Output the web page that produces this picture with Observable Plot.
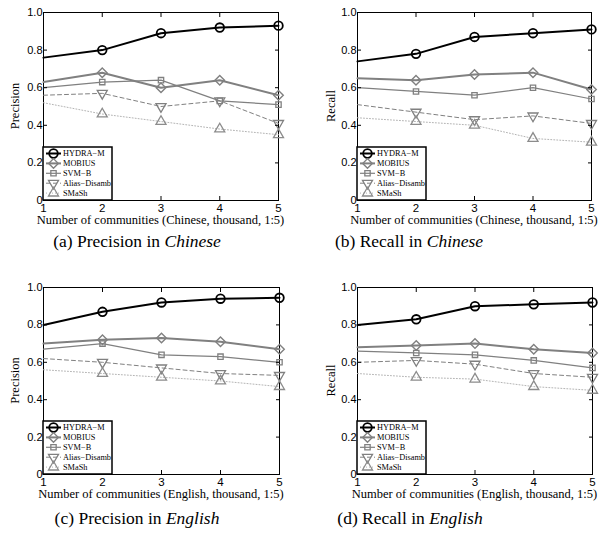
<!DOCTYPE html>
<html>
<head>
<meta charset="utf-8">
<script src="https://cdn.jsdelivr.net/npm/d3@7"></script>
<script src="https://cdn.jsdelivr.net/npm/@observablehq/plot@0.6"></script>
<style>
  html, body { margin: 0; padding: 0; background: #fff; }
  #root { position: relative; width: 603px; height: 538px; overflow: hidden; background: #fff; }
  .panel { position: absolute; }
  .panel svg { display: block; overflow: visible; }
  .cap { position: absolute; width: 300px; text-align: center; font-family: "Liberation Serif", "Times New Roman", serif; font-size: 17.5px; line-height: 20px; color: #000; }
</style>
</head>
<body>
<div id="root"></div>
<script>
// ---- data ----
const xs = [1, 2, 3, 4, 5];
const seriesNames = ["HYDRA\u2212M", "MOBIUS", "SVM\u2212B", "Alias\u2212Disamb", "SMaSh"];
const yTicks = [0, 0.2, 0.4, 0.6, 0.8, 1.0];

// rows follow seriesNames order
const precisionChinese = [
  [0.76, 0.80, 0.89, 0.92, 0.93],
  [0.63, 0.68, 0.60, 0.64, 0.56],
  [0.60, 0.63, 0.64, 0.53, 0.51],
  [0.56, 0.57, 0.50, 0.53, 0.41],
  [0.52, 0.46, 0.42, 0.38, 0.35]
];
const recallChinese = [
  [0.74, 0.78, 0.87, 0.89, 0.91],
  [0.65, 0.64, 0.67, 0.68, 0.59],
  [0.60, 0.58, 0.56, 0.60, 0.54],
  [0.51, 0.47, 0.43, 0.45, 0.41],
  [0.44, 0.42, 0.40, 0.33, 0.31]
];
const precisionEnglish = [
  [0.80, 0.87, 0.92, 0.94, 0.945],
  [0.70, 0.72, 0.73, 0.71, 0.67],
  [0.67, 0.70, 0.64, 0.63, 0.60],
  [0.62, 0.60, 0.57, 0.54, 0.53],
  [0.56, 0.54, 0.52, 0.50, 0.47]
];
const recallEnglish = [
  [0.80, 0.83, 0.90, 0.91, 0.92],
  [0.68, 0.69, 0.70, 0.67, 0.65],
  [0.66, 0.65, 0.64, 0.61, 0.57],
  [0.60, 0.61, 0.59, 0.54, 0.52],
  [0.54, 0.52, 0.51, 0.47, 0.45]
];

// ---- styles ----
const styles = [
  {stroke: "#000000", sw: 2.0, dash: null, symbol: "circle", r: 4.3, mstroke: "#000000", msw: 1.8, rotate: 0},
  {stroke: "#808080", sw: 2.0, dash: null, symbol: "diamond2", r: 4.3, mstroke: "#808080", msw: 1.4, rotate: 0},
  {stroke: "#808080", sw: 1.2, dash: null, symbol: "square2", r: 3.4, mstroke: "#808080", msw: 1.3, rotate: 0},
  {stroke: "#808080", sw: 1.0, dash: "4,3", symbol: "triangle2", r: 4.8, mstroke: "#808080", msw: 1.3, rotate: 180},
  {stroke: "#b4b4b4", sw: 1.0, dash: "1,2", symbol: "triangle2", r: 4.8, mstroke: "#8c8c8c", msw: 1.3, rotate: 0}
];
const d3Symbols = {circle: d3.symbolCircle, diamond2: d3.symbolDiamond2, square2: d3.symbolSquare2, triangle2: d3.symbolTriangle2};
const serif = "'Liberation Serif', 'Times New Roman', serif";

const root = document.getElementById("root");

function panel(values, o) {
  const marks = [Plot.frame({stroke: "#000", strokeWidth: 1})];
  seriesNames.forEach((name, i) => {
    const st = styles[i];
    const d = xs.map((x, j) => ({series: name, x, y: values[i][j]}));
    marks.push(Plot.line(d, {x: "x", y: "y", stroke: st.stroke, strokeWidth: st.sw, strokeDasharray: st.dash}));
    marks.push(Plot.dot(d.filter(p => p.x > 1), {x: "x", y: "y", symbol: st.symbol, r: st.r, fill: "none", stroke: st.mstroke, strokeWidth: st.msw, rotate: st.rotate}));
  });
  marks.push(
    Plot.axisX({ticks: xs, tickSize: -4, tickPadding: 7, tickFormat: d => String(d), label: null, fontSize: 11.5}),
    Plot.axisX({anchor: "top", ticks: xs, tickSize: -4, tickFormat: () => "", label: null}),
    Plot.axisY({ticks: yTicks, tickSize: -4, tickPadding: 5, tickFormat: d => d === 0 ? "0" : d.toFixed(1), label: null}),
    Plot.axisY({anchor: "right", ticks: yTicks, tickSize: -4, tickFormat: () => "", label: null})
  );
  const svg = Plot.plot({
    width: o.width, height: o.height,
    marginLeft: o.mL, marginRight: o.mR, marginTop: o.mT, marginBottom: o.mB,
    x: {domain: [1, 5]},
    y: {domain: [0, 1]},
    style: {fontFamily: "'Liberation Sans', Arial, sans-serif", fontSize: "11px", color: "#000", background: "transparent"},
    marks
  });

  const s = d3.select(svg);
  const plotBottom = o.height - o.mB;
  const midX = (o.mL + o.width - o.mR) / 2;
  const midY = (o.mT + plotBottom) / 2;

  // axis titles
  s.append("text").attr("x", midX).attr("y", plotBottom + 24)
    .attr("text-anchor", "middle").attr("font-family", serif).attr("font-size", 12.5).attr("fill", "#000")
    .text(o.xlabel);
  s.append("text").attr("transform", `translate(${o.yLabelX},${midY}) rotate(-90)`).attr("dy", "0.34em")
    .attr("text-anchor", "middle").attr("font-family", serif).attr("font-size", 12.5).attr("fill", "#000")
    .text(o.ylabel);

  // legend (bottom-left inside the plot area)
  const lw = 69, lh = 53, rowH = 9.9;
  const lx = o.mL, ly = plotBottom - lh;
  const g = s.append("g").attr("transform", `translate(${lx},${ly})`);
  g.append("rect").attr("x", 0).attr("y", 0).attr("width", lw).attr("height", lh)
    .attr("fill", "#fff").attr("stroke", "#000").attr("stroke-width", 1.5);
  seriesNames.forEach((name, i) => {
    const st = styles[i];
    const cy = 6.5 + i * rowH;
    g.append("line").attr("x1", 3).attr("x2", 18).attr("y1", cy).attr("y2", cy)
      .attr("stroke", st.stroke).attr("stroke-width", st.sw).attr("stroke-dasharray", st.dash);
    g.append("path").attr("d", d3.symbol(d3Symbols[st.symbol], Math.PI * st.r * st.r)())
      .attr("transform", `translate(10.5,${cy}) rotate(${st.rotate})`)
      .attr("fill", "none").attr("stroke", st.mstroke).attr("stroke-width", st.msw);
    g.append("text").attr("x", 20).attr("y", cy).attr("dy", "0.34em")
      .attr("text-anchor", "start")
      .attr("font-family", serif).attr("font-size", 8.3)
      .attr("fill", "#000").text(name);
  });

  const div = document.createElement("div");
  div.className = "panel";
  div.style.left = o.left + "px";
  div.style.top = o.top + "px";
  div.appendChild(svg);
  root.appendChild(div);
}

panel(precisionChinese, {left: 0, top: 0, width: 300, height: 230, mL: 43, mR: 22, mT: 12, mB: 30, ylabel: "Precision", xlabel: "Number of communities (Chinese, thousand, 1:5)", yLabelX: 15});
panel(recallChinese, {left: 300, top: 0, width: 303, height: 230, mL: 57, mR: 12, mT: 12, mB: 30, ylabel: "Recall", xlabel: "Number of communities (Chinese, thousand, 1:5)", yLabelX: 31});
panel(precisionEnglish, {left: 0, top: 270, width: 300, height: 230, mL: 43, mR: 21, mT: 17, mB: 26, ylabel: "Precision", xlabel: "Number of communities (English, thousand, 1:5)", yLabelX: 15});
panel(recallEnglish, {left: 300, top: 270, width: 303, height: 230, mL: 57, mR: 11, mT: 17, mB: 26, ylabel: "Recall", xlabel: "Number of communities (English, thousand, 1:5)", yLabelX: 31});

// captions
const captions = [
  {pre: "(a) Precision in ", it: "Chinese", cx: 137, cy: 241},
  {pre: "(b) Recall in ", it: "Chinese", cx: 409, cy: 241},
  {pre: "(c) Precision in ", it: "English", cx: 137, cy: 518},
  {pre: "(d) Recall in ", it: "English", cx: 410, cy: 518}
];
captions.forEach(c => {
  const el = document.createElement("div");
  el.className = "cap";
  el.style.left = (c.cx - 150) + "px";
  el.style.top = (c.cy - 10) + "px";
  el.appendChild(document.createTextNode(c.pre));
  const i = document.createElement("i");
  i.textContent = c.it;
  el.appendChild(i);
  root.appendChild(el);
});
</script>
</body>
</html>
